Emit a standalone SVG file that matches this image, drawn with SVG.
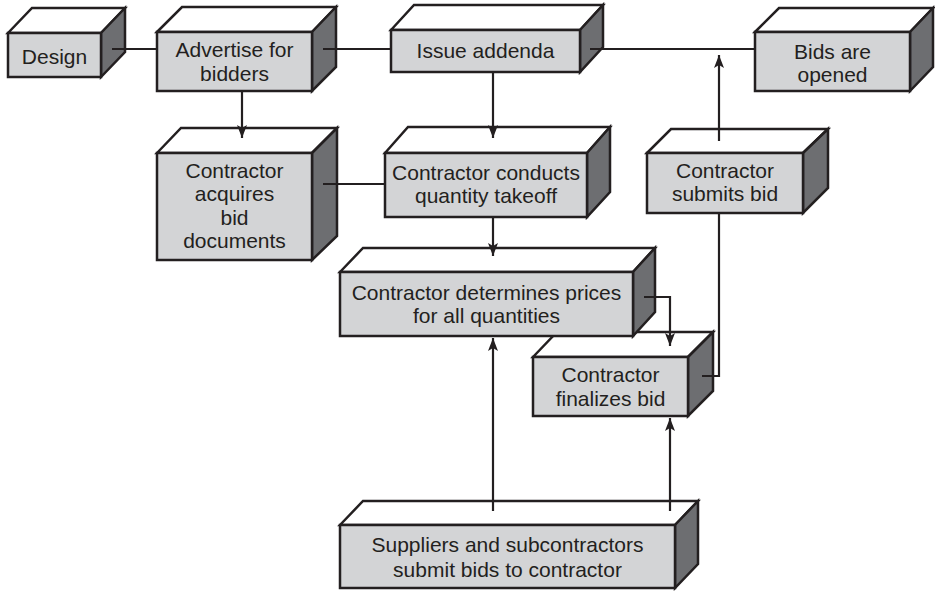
<svg xmlns="http://www.w3.org/2000/svg" width="935" height="591" viewBox="0 0 935 591">
  <style>
    .front { fill: #d3d4d6; stroke: #231f20; stroke-width: 2.5; stroke-linejoin: miter; }
    .top { fill: #ffffff; stroke: #231f20; stroke-width: 2.5; stroke-linejoin: miter; }
    .side { fill: #6d6e71; stroke: #231f20; stroke-width: 2.5; stroke-linejoin: miter; }
    .label { font-family: "Liberation Sans", Arial, sans-serif; font-size: 21px; fill: #231f20; text-anchor: middle; }
    .conn { fill: none; stroke: #231f20; stroke-width: 2.2; }
  </style>
  <defs>
    <marker id="arrow" markerUnits="userSpaceOnUse" markerWidth="14" markerHeight="12" refX="13" refY="5" orient="auto">
      <path d="M0,0 L13,5 L0,10 L3,5 z" fill="#231f20"/>
    </marker>
  </defs>

  <rect width="935" height="591" fill="#ffffff"/>

  <!-- Design -->
  <g id="design">
    <polygon class="top" points="8,33 32,8 125,8 101,33"/>
    <polygon class="side" points="101,33 125,8 125,52 101,77"/>
    <rect class="front" x="8" y="33" width="93" height="44"/>
    <text class="label" x="54.5" y="64">Design</text>
  </g>

  <!-- Advertise for bidders -->
  <g id="advertise">
    <polygon class="top" points="157,32 182,7 336,7 312,32"/>
    <polygon class="side" points="312,32 336,7 336,67 312,91"/>
    <rect class="front" x="157" y="32" width="155" height="59"/>
    <text class="label" x="234.5" y="57">Advertise for</text>
    <text class="label" x="234.5" y="81">bidders</text>
  </g>

  <!-- Issue addenda -->
  <g id="addenda">
    <polygon class="top" points="391,30 414,5 603,5 580,30"/>
    <polygon class="side" points="580,30 603,5 603,47 580,72"/>
    <rect class="front" x="391" y="30" width="189" height="42"/>
    <text class="label" x="485.5" y="58">Issue addenda</text>
  </g>

  <!-- Bids are opened -->
  <g id="opened">
    <polygon class="top" points="755,32 779,8 933,8 910,32"/>
    <polygon class="side" points="910,32 933,8 933,67 910,91"/>
    <rect class="front" x="755" y="32" width="155" height="59"/>
    <text class="label" x="832.5" y="59">Bids are</text>
    <text class="label" x="832.5" y="82">opened</text>
  </g>

  <!-- Contractor acquires bid documents -->
  <g id="acquires">
    <polygon class="top" points="157,153 181,128 337,128 312,153"/>
    <polygon class="side" points="312,153 337,128 337,236 312,260"/>
    <rect class="front" x="157" y="153" width="155" height="107"/>
    <text class="label" x="234.5" y="178">Contractor</text>
    <text class="label" x="234.5" y="201">acquires</text>
    <text class="label" x="234.5" y="225">bid</text>
    <text class="label" x="234.5" y="248">documents</text>
  </g>

  <!-- Contractor conducts quantity takeoff -->
  <g id="takeoff">
    <polygon class="top" points="385,153 408,127 610,127 587,153"/>
    <polygon class="side" points="587,153 610,127 610,192 587,217"/>
    <rect class="front" x="385" y="153" width="202" height="64"/>
    <text class="label" x="486" y="180">Contractor conducts</text>
    <text class="label" x="486" y="203">quantity takeoff</text>
  </g>

  <!-- Contractor submits bid -->
  <g id="submits">
    <polygon class="top" points="647,153 671,129 828,129 803,153"/>
    <polygon class="side" points="803,153 828,129 828,188 803,213"/>
    <rect class="front" x="647" y="153" width="156" height="60"/>
    <text class="label" x="725" y="178">Contractor</text>
    <text class="label" x="725" y="201">submits bid</text>
  </g>

  <!-- Contractor finalizes bid (sits behind the prices box) -->
  <g id="finalizes">
    <polygon class="top" points="533,357 557,332 713,332 688,357"/>
    <polygon class="side" points="688,357 713,332 713,391 688,416"/>
    <rect class="front" x="533" y="357" width="155" height="59"/>
    <text class="label" x="610.5" y="382">Contractor</text>
    <text class="label" x="610.5" y="406">finalizes bid</text>
  </g>

  <!-- Contractor determines prices for all quantities -->
  <g id="prices">
    <polygon class="top" points="340,272 363,248 655,248 633,272"/>
    <polygon class="side" points="633,272 655,248 655,312 633,336"/>
    <rect class="front" x="340" y="272" width="293" height="64"/>
    <text class="label" x="486.5" y="300">Contractor determines prices</text>
    <text class="label" x="486.5" y="323">for all quantities</text>
  </g>

  <!-- Suppliers and subcontractors submit bids to contractor -->
  <g id="suppliers">
    <polygon class="top" points="340,525 363,501 698,501 675,525"/>
    <polygon class="side" points="675,525 698,501 698,564 675,588"/>
    <rect class="front" x="340" y="525" width="335" height="63"/>
    <text class="label" x="507.5" y="552">Suppliers and subcontractors</text>
    <text class="label" x="507.5" y="577">submit bids to contractor</text>
  </g>

  <!-- Connectors -->
  <g id="connectors">
    <path class="conn" d="M112,49 H157"/>
    <path class="conn" d="M323,49 H391"/>
    <path class="conn" d="M590,49 H755"/>
    <path class="conn" d="M242,91 V138" marker-end="url(#arrow)"/>
    <path class="conn" d="M493,72 V138" marker-end="url(#arrow)"/>
    <path class="conn" d="M323,184 H385"/>
    <path class="conn" d="M493,217 V256" marker-end="url(#arrow)"/>
    <path class="conn" d="M644,297 H670 V346" marker-end="url(#arrow)"/>
    <path class="conn" d="M702,376 H719 V213"/>
    <path class="conn" d="M719,141 V55" marker-end="url(#arrow)"/>
    <path class="conn" d="M493,511 V338" marker-end="url(#arrow)"/>
    <path class="conn" d="M670,511 V418" marker-end="url(#arrow)"/>
  </g>
</svg>
